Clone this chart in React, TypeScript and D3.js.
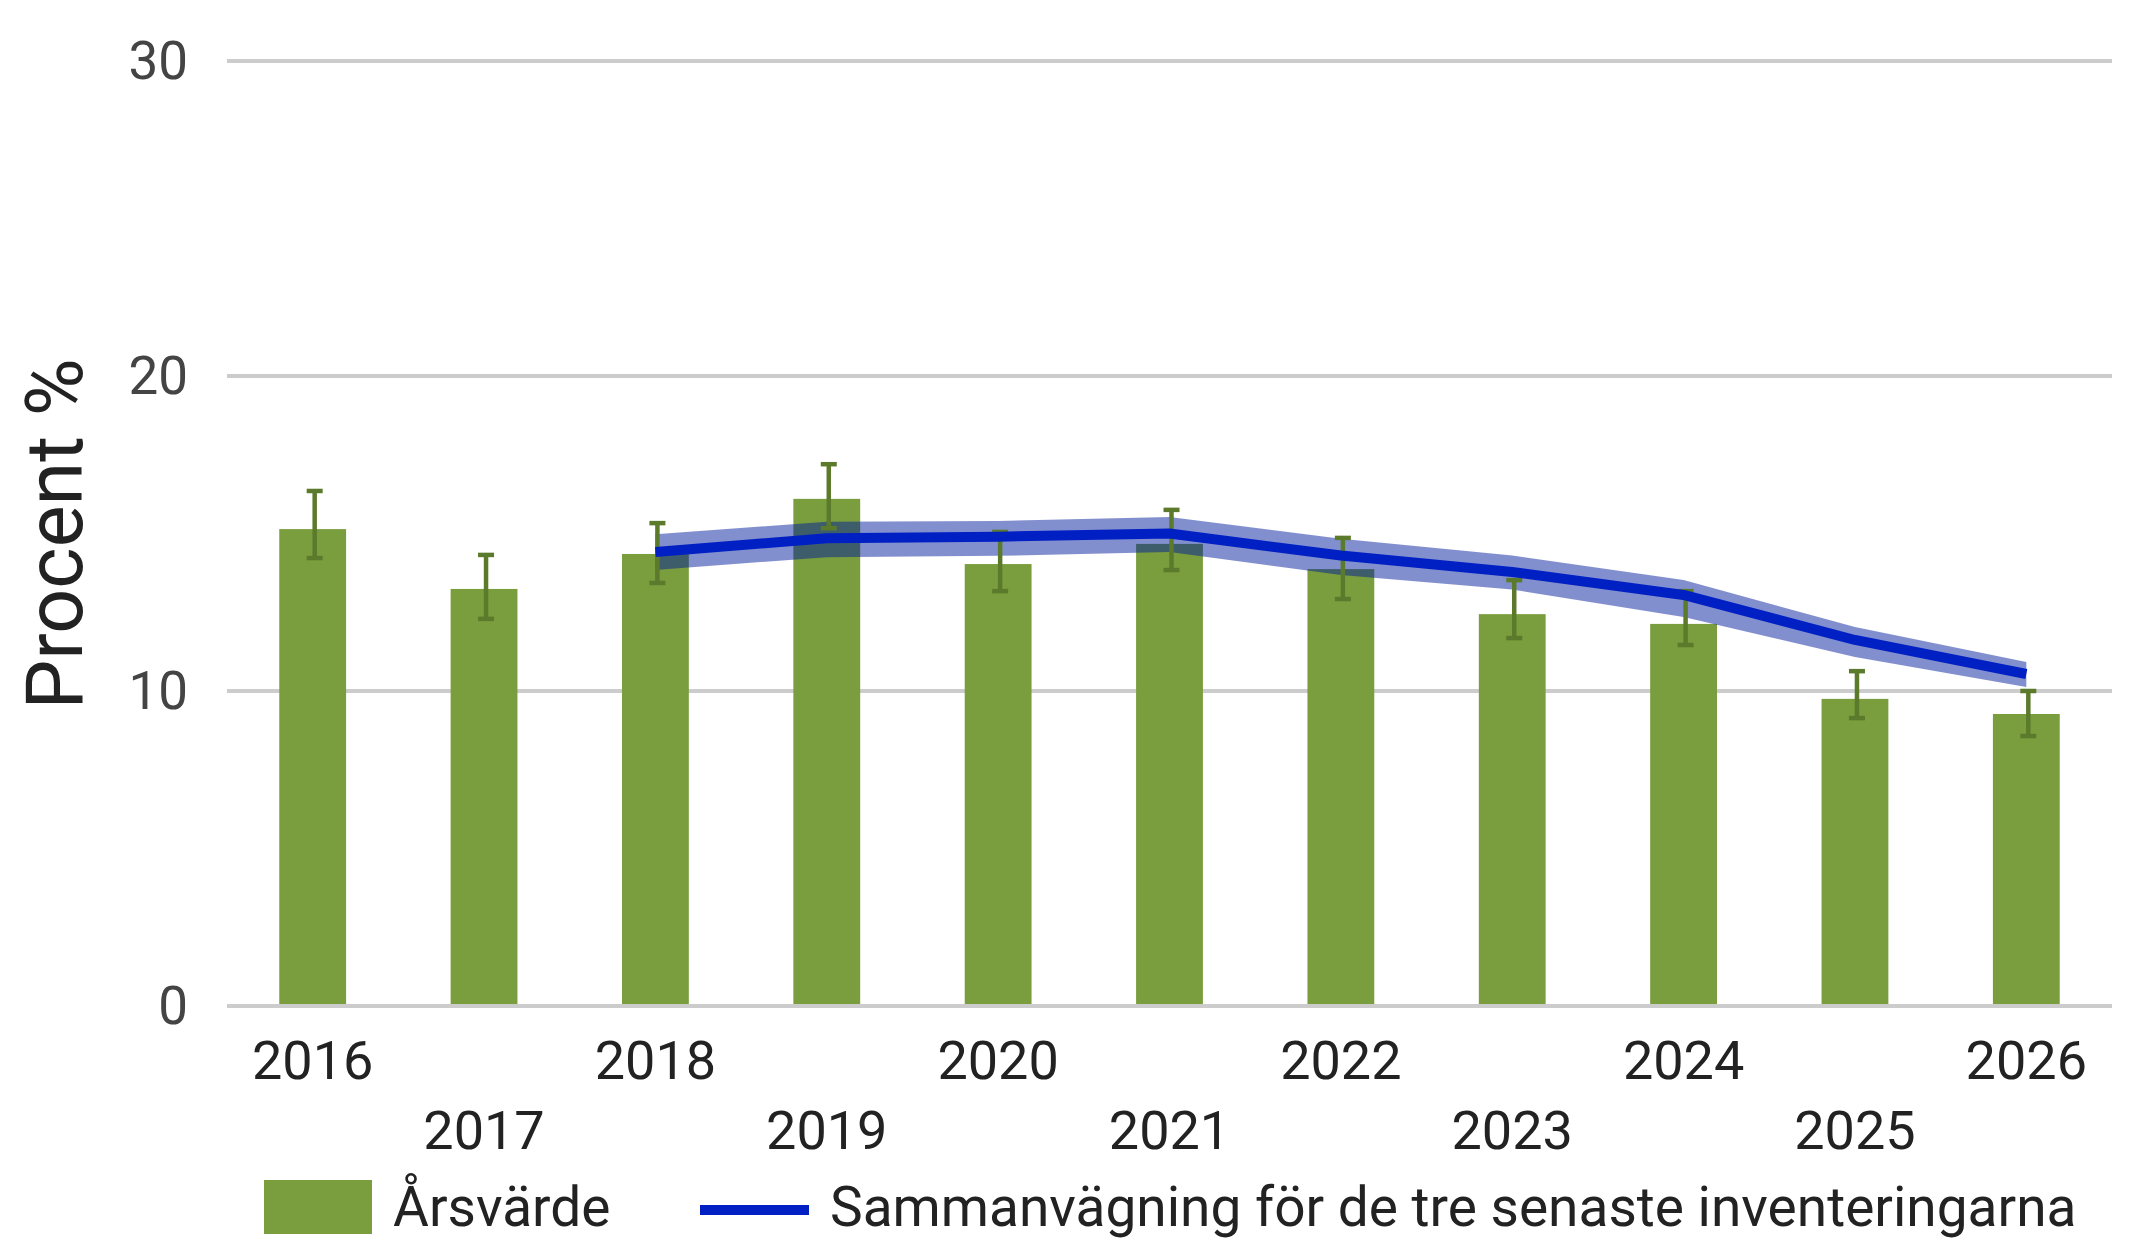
import React from 'react';
import * as d3 from 'd3';

const years = ['2016', '2017', '2018', '2019', '2020', '2021', '2022', '2023', '2024', '2025', '2026'];
const annualValues = [15.14, 13.24, 14.35, 16.1, 14.03, 14.67, 13.87, 12.44, 12.13, 9.75, 9.27];
const errHigh = [16.35, 14.32, 15.33, 17.2, 15.05, 15.75, 14.86, 13.52, 13.17, 10.63, 10.0];
const errLow = [14.22, 12.29, 13.43, 15.17, 13.17, 13.84, 12.92, 11.68, 11.46, 9.14, 8.57];

const lineYears = ['2018', '2019', '2020', '2021', '2022', '2023', '2024', '2025', '2026'];
const lineValues = [14.41, 14.85, 14.9, 15.0, 14.3, 13.78, 13.05, 11.62, 10.54];
const bandUpper = [14.98, 15.37, 15.4, 15.52, 14.83, 14.3, 13.52, 12.03, 10.92];
const bandLower = [13.84, 14.25, 14.29, 14.41, 13.68, 13.22, 12.35, 11.08, 10.13];

const yTicks = [0, 10, 20, 30];
const barLabel = 'Årsvärde';
const lineLabel = 'Sammanvägning för de tre senaste inventeringarna';
const yTitle = 'Procent %';

const W = 2139;
const H = 1240;
const font = 'Roboto, "Noto Sans", sans-serif';

export default function App() {
  const x = d3.scaleBand<string>()
    .domain(years)
    .range([227, 2112])
    .paddingInner(0.61)
    .paddingOuter(0.305);
  const y = d3.scaleLinear().domain([0, 30]).range([1006, 61]);
  const cx = (yr: string) => (x(yr) as number) + x.bandwidth() / 2;

  const bandData = lineYears.map((yr, i) => ({ yr, hi: bandUpper[i], lo: bandLower[i], v: lineValues[i] }));
  const area = d3.area<typeof bandData[number]>()
    .x(d => cx(d.yr))
    .y0(d => y(d.lo))
    .y1(d => y(d.hi));
  const line = d3.line<typeof bandData[number]>()
    .x(d => cx(d.yr))
    .y(d => y(d.v));

  const capW = 16;

  return (
    <div style={{ position: 'fixed', left: 0, top: 0 }}>
      <svg width={W} height={H} style={{ display: 'block', background: '#fff' }} fontFamily={font}>
        {/* grid */}
        {yTicks.map(t => (
          <g key={t}>
            <line x1={227} x2={2112} y1={y(t)} y2={y(t)} stroke="#cccccc" strokeWidth={4} />
            <text x={188} y={y(t)} textAnchor="end" dominantBaseline="central" fontSize={53} fill="#444">
              {t}
            </text>
          </g>
        ))}

        <text
          transform={`translate(82,534) rotate(-90)`}
          textAnchor="middle"
          fontSize={79}
          fill="#222"
        >
          {yTitle}
        </text>

        {/* bars */}
        {years.map((yr, i) => (
          <rect
            key={yr}
            x={x(yr)}
            y={y(annualValues[i])}
            width={x.bandwidth()}
            height={y(0) - y(annualValues[i]) - 2}
            fill="#7a9e3e"
          />
        ))}

        {/* combined band + line */}
        <path d={area(bandData) ?? ''} fill="#001a9c" fillOpacity={0.49} />

        {years.map((yr, i) => (
          <g key={'e' + yr} stroke="#5b7a2b" strokeWidth={4.5}>
            <line x1={cx(yr) + 2} x2={cx(yr) + 2} y1={y(errHigh[i])} y2={y(errLow[i])} />
            <line x1={cx(yr) + 2 - capW / 2} x2={cx(yr) + 2 + capW / 2} y1={y(errHigh[i])} y2={y(errHigh[i])} />
            <line x1={cx(yr) + 2 - capW / 2} x2={cx(yr) + 2 + capW / 2} y1={y(errLow[i])} y2={y(errLow[i])} />
          </g>
        ))}

        <path d={line(bandData) ?? ''} fill="none" stroke="#0020c4" strokeWidth={10} strokeLinejoin="round" />

        {/* x labels */}
        {years.map((yr, i) => (
          <text
            key={'l' + yr}
            x={cx(yr)}
            y={i % 2 === 0 ? 1079 : 1149}
            textAnchor="middle"
            fontSize={54}
            fill="#222"
          >
            {yr}
          </text>
        ))}

        {/* legend */}
        <rect x={264} y={1180} width={108} height={54} fill="#7a9e3e" />
        <text x={393} y={1226} fontSize={55} fill="#222">{barLabel}</text>
        <line x1={700} x2={809} y1={1210} y2={1210} stroke="#0020c4" strokeWidth={10} />
        <text x={830} y={1226} fontSize={55} fill="#222">{lineLabel}</text>
      </svg>
    </div>
  );
}
